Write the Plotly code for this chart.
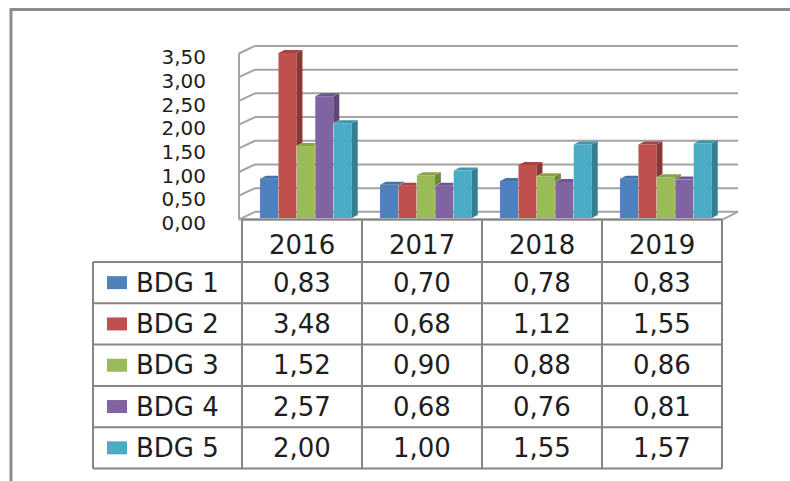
import plotly.graph_objects as go

# ---------------- data ----------------
years = ["2016", "2017", "2018", "2019"]
series_names = ["BDG 1", "BDG 2", "BDG 3", "BDG 4", "BDG 5"]
bdg1 = [0.83, 0.70, 0.78, 0.83]
bdg2 = [3.48, 0.68, 1.12, 1.55]
bdg3 = [1.52, 0.90, 0.88, 0.86]
bdg4 = [2.57, 0.68, 0.76, 0.81]
bdg5 = [2.00, 1.00, 1.55, 1.57]
y_tick_values = [0.0, 0.5, 1.0, 1.5, 2.0, 2.5, 3.0, 3.5]
y_tick_labels = ["0,00", "0,50", "1,00", "1,50", "2,00", "2,50", "3,00", "3,50"]

values = [bdg1, bdg2, bdg3, bdg4, bdg5]

# ---------------- styles ----------------
front_colors = ["#4F81BD", "#C0504D", "#9BBB59", "#8064A2", "#4BACC6"]
side_colors = ["#385D8A", "#8C3836", "#71893F", "#5C4776", "#357D91"]
top_colors = ["#4572A8", "#A9433F", "#86A24A", "#6E5690", "#3F97AF"]
FONT = "DejaVu Sans"
FS = 26
FS_TICK = 20
TXT = "#1E1E1E"
GRID = "#A3A3A3"
TABLE = "#858585"

W, H = 790, 481
X0_PX, PX_PER_X = 306.0, 120.0
Y0_PX, PX_PER_Y = 218.0, 47.4


def dx(px):
    return (px - X0_PX) / PX_PER_X


def dy(py):
    return (Y0_PX - py) / PX_PER_Y


def pxp(px):
    return px / W


def pyp(py):
    return 1 - py / H


DOM_LEFT = 209
BW = 0.15
PITCH = 0.1535
OFF0 = -0.383
DEPX = 6 / PX_PER_X
DEPY = 3 / PX_PER_Y
WALL = 0.13

fig = go.Figure()
xs = list(range(len(years)))

# front faces
for k, vals in enumerate(values):
    fig.add_trace(go.Bar(
        x=xs, y=vals, width=BW, offset=OFF0 + k * PITCH,
        marker=dict(color=front_colors[k], line=dict(width=0)),
        name=series_names[k], showlegend=False, hoverinfo="skip",
    ))

# side and top faces (depth)
for k, vals in enumerate(values):
    sx, sy, tx, ty = [], [], [], []
    for i, v in enumerate(vals):
        x0 = i + OFF0 + k * PITCH
        x1 = x0 + BW
        nxt = values[k + 1][i] if k + 1 < len(values) else 0.0
        b = max(0.0, nxt)
        if b < v:
            sx += [x1, x1, x1 + DEPX, x1 + DEPX, x1, None]
            sy += [b, v, v + DEPY, b + DEPY, b, None]
        if nxt > v:
            tx += [x0, x1, x1, x0 + DEPX, x0, None]
            ty += [v, v, v + DEPY, v + DEPY, v, None]
        else:
            tx += [x0, x1, x1 + DEPX, x0 + DEPX, x0, None]
            ty += [v, v, v + DEPY, v + DEPY, v, None]
    fig.add_trace(go.Scatter(x=sx, y=sy, mode="lines", fill="toself",
                             fillcolor=side_colors[k], line=dict(width=0),
                             showlegend=False, hoverinfo="skip"))
    fig.add_trace(go.Scatter(x=tx, y=ty, mode="lines", fill="toself",
                             fillcolor=top_colors[k], line=dict(width=0),
                             showlegend=False, hoverinfo="skip"))

shapes = []
# back wall gridlines and left wall diagonals
for v in y_tick_values:
    shapes.append(dict(type="line", xref="x", yref="y", x0=dx(255), x1=dx(738),
                       y0=v + WALL, y1=v + WALL, line=dict(color=GRID, width=2), layer="below"))
    shapes.append(dict(type="line", xref="x", yref="y", x0=dx(239), x1=dx(255),
                       y0=v - 0.03, y1=v + WALL, line=dict(color=GRID, width=2), layer="below"))
# left wall vertical
shapes.append(dict(type="line", xref="x", yref="y", x0=dx(239), x1=dx(239),
                   y0=-0.03, y1=y_tick_values[-1] - 0.03, line=dict(color=GRID, width=2), layer="below"))
# floor front and right edge
shapes.append(dict(type="line", xref="x", yref="y", x0=dx(239), x1=dx(723),
                   y0=-0.03, y1=-0.03, line=dict(color=GRID, width=2), layer="below"))
shapes.append(dict(type="line", xref="x", yref="y", x0=dx(723), x1=dx(738),
                   y0=-0.03, y1=WALL, line=dict(color=GRID, width=2), layer="below"))

# ---------------- data table ----------------
col_edges = [242 + 120 * j for j in range(len(years) + 1)]
row_top = 262.0
row_h = 41.3
row_edges = [row_top + row_h * r for r in range(len(series_names) + 1)]
TOP = 219.5
LEFT = 93

for xe in col_edges:
    shapes.append(dict(type="line", xref="paper", yref="paper", x0=pxp(xe), x1=pxp(xe),
                       y0=pyp(TOP), y1=pyp(row_edges[-1]), line=dict(color=TABLE, width=2)))
shapes.append(dict(type="line", xref="paper", yref="paper", x0=pxp(LEFT), x1=pxp(LEFT),
                   y0=pyp(row_edges[0]), y1=pyp(row_edges[-1]), line=dict(color=TABLE, width=2)))
shapes.append(dict(type="line", xref="paper", yref="paper", x0=pxp(col_edges[0]), x1=pxp(col_edges[-1]),
                   y0=pyp(TOP), y1=pyp(TOP), line=dict(color=TABLE, width=2)))
for ye in row_edges:
    shapes.append(dict(type="line", xref="paper", yref="paper", x0=pxp(LEFT), x1=pxp(col_edges[-1]),
                       y0=pyp(ye), y1=pyp(ye), line=dict(color=TABLE, width=2)))

annotations = []
for j, yr in enumerate(years):
    cx = (col_edges[j] + col_edges[j + 1]) / 2
    annotations.append(dict(text=yr, xref="paper", yref="paper", x=pxp(cx), y=pyp(245),
                            xanchor="center", yanchor="middle", showarrow=False,
                            font=dict(family=FONT, size=FS, color=TXT)))
for k, name in enumerate(series_names):
    cy = (row_edges[k] + row_edges[k + 1]) / 2
    shapes.append(dict(type="rect", xref="paper", yref="paper", x0=pxp(107), x1=pxp(127),
                       y0=pyp(cy + 6.5), y1=pyp(cy - 6.5), fillcolor=front_colors[k],
                       line=dict(width=0)))
    annotations.append(dict(text=name, xref="paper", yref="paper", x=pxp(134), y=pyp(cy),
                            xanchor="left", yanchor="middle", showarrow=False,
                            font=dict(family=FONT, size=FS, color=TXT)))
    for j in range(len(years)):
        cx = (col_edges[j] + col_edges[j + 1]) / 2
        txt = f"{values[k][j]:.2f}".replace(".", ",")
        annotations.append(dict(text=txt, xref="paper", yref="paper", x=pxp(cx), y=pyp(cy),
                                xanchor="center", yanchor="middle", showarrow=False,
                                font=dict(family=FONT, size=FS, color=TXT)))

# outer chart border
shapes.append(dict(type="rect", xref="paper", yref="paper", x0=pxp(11), x1=pxp(W + 20),
                   y0=pyp(H + 20), y1=pyp(9.5), line=dict(color="#8C8C8C", width=3)))

fig.update_layout(
    width=W, height=H,
    margin=dict(l=0, r=0, t=0, b=0),
    paper_bgcolor="white", plot_bgcolor="rgba(0,0,0,0)",
    barmode="overlay", showlegend=False,
    xaxis=dict(domain=[pxp(DOM_LEFT), 1], range=[dx(DOM_LEFT), dx(W)],
               showgrid=False, zeroline=False, showticklabels=False, showline=False,
               fixedrange=True),
    yaxis=dict(domain=[0, 1], range=[dy(H), dy(0)], showgrid=False, zeroline=False,
               showline=False, tickvals=y_tick_values, ticktext=y_tick_labels,
               ticks="", ticklabelshift=5, ticklabelstandoff=2,
               tickfont=dict(family=FONT, size=FS_TICK, color=TXT), fixedrange=True),
    shapes=shapes, annotations=annotations,
)

fig.write_html("out.html", config={"displayModeBar": False},
               post_script="document.body.style.margin='0px';document.body.style.overflow='hidden';")
